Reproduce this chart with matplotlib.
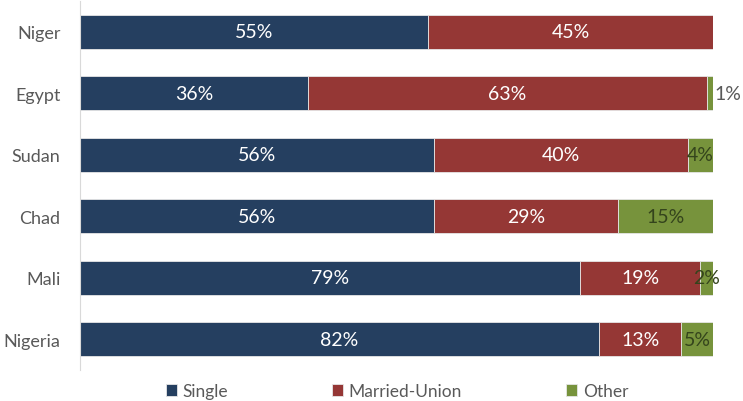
import matplotlib
matplotlib.use("Agg")
import matplotlib.pyplot as plt
import numpy as np

countries = ["Niger", "Egypt", "Sudan", "Chad", "Mali", "Nigeria"]
single = [55, 36, 56, 56, 79, 82]
married = [45, 63, 40, 29, 19, 13]
other = [0, 1, 4, 15, 2, 5]
series_names = ["Single", "Married-Union", "Other"]
colors = ["#253F60", "#953735", "#77933C"]
text_colors = ["white", "white", "#34441C"]

plt.rcParams['font.family'] = ['Lato', 'DejaVu Sans']

fig = plt.figure(figsize=(7.43, 4.02), dpi=100)
ax = fig.add_axes([80/743, 31/402, 633/743, 369/402])

y = np.arange(len(countries))
left = np.zeros(len(countries))
handles = []
for vals, name, col, tc in zip([single, married, other], series_names, colors, text_colors):
    vals = np.array(vals, dtype=float)
    b = ax.barh(y, vals, left=left, height=0.555, color=col, edgecolor="#e6e6e6",
                linewidth=0.6, label=name)
    handles.append(b)
    for yi, v, l in zip(y, vals, left):
        if v <= 0:
            continue
        if v < 2:
            ax.text(l + v + 0.3, yi, f"{int(v)}%", ha="left", va="center",
                    color="#595959", fontsize=14)
        else:
            ax.text(l + v / 2, yi, f"{int(v)}%", ha="center", va="center",
                    color=tc, fontsize=14)
    left = left + vals

ax.set_xlim(0, 100)
ax.set_ylim(len(countries) - 0.5, -0.5)
ax.set_yticks(y)
ax.set_yticklabels(countries, fontsize=13, color="#595959")
ax.tick_params(axis="y", length=0, pad=14)
ax.set_xticks([])
for s in ["top", "right", "bottom"]:
    ax.spines[s].set_visible(False)
ax.spines["left"].set_color("#d9d9d9")
ax.spines["left"].set_linewidth(0.8)

leg = fig.legend(handles=handles, labels=series_names, loc="center",
                 bbox_to_anchor=(397/743, 1 - 392/402), ncol=3, frameon=False,
                 fontsize=12.5, handlelength=0.65, handleheight=0.65,
                 handletextpad=0.3, columnspacing=6.0, labelcolor="#595959")

fig.savefig("out.png", dpi=100)
